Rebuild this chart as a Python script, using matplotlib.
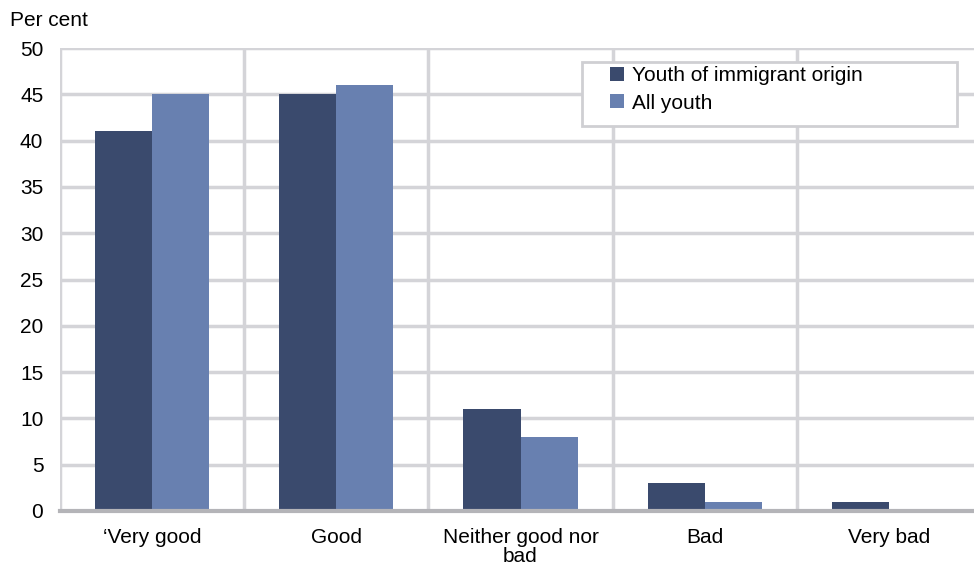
import numpy as np
import matplotlib
matplotlib.use('Agg')
import matplotlib.pyplot as plt
from matplotlib.patches import Rectangle

# data
categories = ['\u2018Very good', 'Good', 'Neither good nor\nbad', 'Bad', 'Very bad']
immigrant = [41, 45, 11, 3, 1]
all_youth = [45, 46, 8, 1, 0]
yticks = list(range(0, 55, 5))

dark = '#3a4a6d'
light = '#6880b0'
grid_col = '#d4d4d8'
fs = 15

plt.rcParams['font.family'] = ['Liberation Sans', 'DejaVu Sans']

fig = plt.figure(figsize=(9.74, 5.65), dpi=100)
fig.patch.set_facecolor('white')
ax = fig.add_axes([60/974, 1-511/565, 921/974, 463/565])

x = np.arange(len(categories))
w = 0.31
ax.bar(x - w/2, immigrant, w, color=dark, label='Youth of immigrant origin', zorder=3)
ax.bar(x + w/2, all_youth, w, color=light, label='All youth', zorder=3)

ax.set_xlim(-0.5, len(categories) - 0.5)
ax.set_ylim(0, 50)
ax.set_yticks(yticks)
ax.set_yticklabels([str(t) for t in yticks], fontsize=fs)
ax.set_xticks(x)
ax.set_xticklabels(categories, fontsize=fs, linespacing=1.0, va='top')

for t in yticks[1:]:
    ax.axhline(t, color=grid_col, lw=2.5, zorder=1)
for s in np.arange(-0.5, len(categories), 1.0):
    ax.axvline(s, color=grid_col, lw=2.5, zorder=1)

for side in ['top', 'right', 'left']:
    ax.spines[side].set_visible(False)
ax.spines['bottom'].set_color('#b4b4b8')
ax.spines['bottom'].set_linewidth(3)
ax.spines['bottom'].set_zorder(4)
ax.tick_params(axis='both', length=0)
ax.tick_params(axis='y', pad=12)
ax.tick_params(axis='x', pad=12)

# legend box drawn by hand so it can be wider than its entries
box = Rectangle((582/974, 1 - 126/565), 375/974, 64/565, transform=fig.transFigure,
                facecolor='white', edgecolor='#cfcfd3', lw=2, zorder=4, clip_on=False)
ax.add_patch(box)
leg = ax.legend(loc='upper left', bbox_to_anchor=(610/974, 1 - 66/565),
                bbox_transform=fig.transFigure, fontsize=fs, frameon=False,
                handlelength=0.65, handleheight=0.65, handletextpad=0.4,
                borderpad=0, borderaxespad=0, labelspacing=0.42)
leg.set_zorder(5)

fig.text(10/974, 1 - 21/565, 'Per cent', fontsize=fs, va='center', ha='left')

fig.savefig('out.png', dpi=100)
